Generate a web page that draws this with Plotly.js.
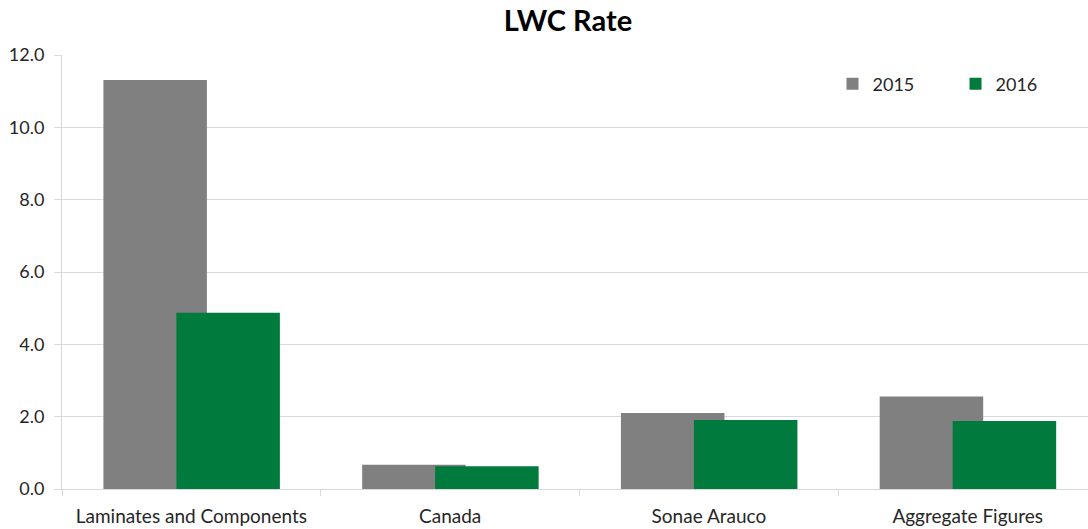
<!DOCTYPE html>
<html><head><meta charset="utf-8">
<script src="https://cdn.plot.ly/plotly-3.0.1.min.js"></script>
<style>html,body{margin:0;padding:0;background:#fff}#chart{width:1088px;height:529px}</style>
</head><body><div id="chart"></div>
<script>
const categories = ["Laminates and Components", "Canada", "Sonae Arauco", "Aggregate Figures"];
const series2015 = [11.31, 0.67, 2.10, 2.56];
const series2016 = [4.87, 0.63, 1.91, 1.88];
const seriesNames = ["2015", "2016"];

const FONT = "Lato, 'Open Sans', sans-serif";
const traces = [
  {type:'bar', name:seriesNames[0], x:categories, y:series2015, marker:{color:'#808080'},
   offset:-0.34, width:0.40, hoverinfo:'y'},
  {type:'bar', name:seriesNames[1], x:categories, y:series2016, marker:{color:'#007A3D'},
   offset:-0.058, width:0.40, hoverinfo:'y'}
];
const layout = {
  width:1088, height:529,
  margin:{l:62, r:0, t:55, b:40, autoexpand:false},
  paper_bgcolor:'#fff', plot_bgcolor:'#fff',
  barmode:'overlay',
  font:{family:FONT, size:18, color:'#262626'},
  title:{text:'<b>LWC Rate</b>', font:{family:FONT, size:29, color:'#000'}, xref:'container', x:0.522, xanchor:'center', y:0.96, yanchor:'middle'},
  xaxis:{type:'category', range:[-0.5, 3.465], automargin:false, showgrid:false, showline:true, linecolor:'#d9d9d9', linewidth:1,
         ticks:'outside', tickson:'boundaries', ticklen:6, tickcolor:'#d9d9d9', ticklabelstandoff:10,
         tickfont:{family:FONT, size:19, color:'#262626'}, fixedrange:true},
  yaxis:{range:[0,12], dtick:2, tickformat:'.1f', automargin:false, showgrid:true, gridcolor:'#d9d9d9', gridwidth:1, zeroline:false,
         showline:true, linecolor:'#d9d9d9', ticks:'outside', ticklen:7, tickcolor:'#d9d9d9', ticklabelstandoff:6,
         tickfont:{family:FONT, size:18, color:'#262626'}, fixedrange:true},
  showlegend:true,
  legend:{orientation:'h', x:0.751, xanchor:'left', y:0.933, yanchor:'middle', bgcolor:'rgba(0,0,0,0)',
          font:{family:FONT, size:18, color:'#262626'}, itemwidth:30, entrywidth:78, traceorder:'normal'}
};
Plotly.newPlot('chart', traces, layout, {displayModeBar:false, staticPlot:true});
</script></body></html>
